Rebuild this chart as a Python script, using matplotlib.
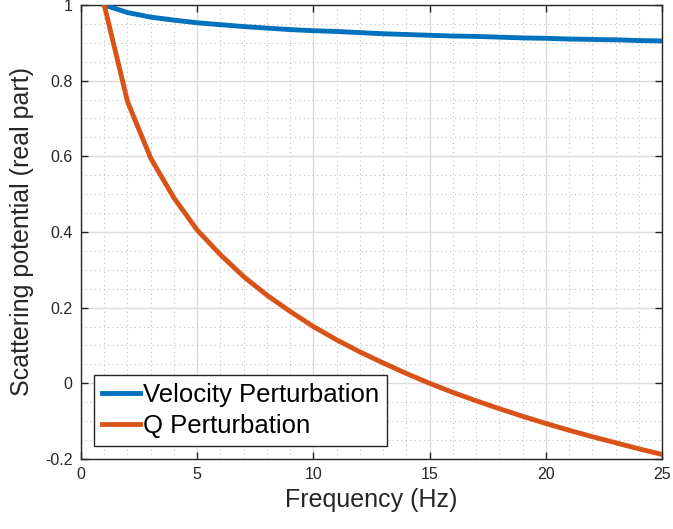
import matplotlib
matplotlib.use("Agg")
import matplotlib.pyplot as plt
from matplotlib.ticker import MultipleLocator, FormatStrFormatter

freq = [1, 2, 3, 4, 5, 6, 7, 8, 9, 10, 11, 12, 13,
        14, 15, 16, 17, 18, 19, 20, 21, 22, 23, 24, 25]
velocity = [1.000, 0.980, 0.968, 0.960, 0.953, 0.948, 0.943, 0.939, 0.935,
            0.932, 0.930, 0.927, 0.924, 0.922, 0.920, 0.918, 0.917, 0.915,
            0.913, 0.912, 0.910, 0.909, 0.908, 0.906, 0.905]
q_pert = [1.000, 0.745, 0.595, 0.490, 0.405, 0.340, 0.282, 0.233, 0.190,
          0.150, 0.115, 0.083, 0.054, 0.026, 0.000, -0.024, -0.046, -0.067,
          -0.087, -0.106, -0.124, -0.141, -0.157, -0.173, -0.188]
labels = ["Velocity Perturbation", "Q Perturbation"]

plt.rcParams['font.family'] = ['Liberation Sans', 'DejaVu Sans']
plt.rcParams['axes.unicode_minus'] = False

fig = plt.figure(figsize=(6.73, 5.29), dpi=100)
ax = fig.add_axes([81 / 673, 1 - 459 / 529, 581 / 673, 454 / 529])

ax.plot(freq, velocity, color='#0072BD', lw=3.5, label=labels[0], zorder=3)
ax.plot(freq, q_pert, color='#D95319', lw=3.5, label=labels[1], zorder=3)

ax.set_xlim(0, 25)
ax.set_ylim(-0.2, 1)
ax.xaxis.set_major_locator(MultipleLocator(5))
ax.xaxis.set_minor_locator(MultipleLocator(1))
ax.yaxis.set_major_locator(MultipleLocator(0.2))
ax.yaxis.set_minor_locator(MultipleLocator(0.05))
ax.yaxis.set_major_formatter(FormatStrFormatter('%g'))

ax.grid(which='major', color='#dcdcdc', lw=1.0, ls='-')
ax.grid(which='minor', color='#c0c0c0', lw=0.8, ls=(0, (1, 3)))
ax.set_axisbelow(True)

ax.tick_params(which='major', direction='in', top=True, right=True,
               length=5, width=1, labelsize=11.5, colors='#262626', pad=6)
ax.tick_params(which='minor', length=0)
for s in ax.spines.values():
    s.set_color('#262626')
    s.set_linewidth(1)

ax.set_xlabel("Frequency (Hz)", fontsize=18, color='#262626', labelpad=4)
ax.set_ylabel("Scattering potential (real part)", fontsize=18, color='#262626', labelpad=8)

leg = ax.legend(loc='lower left', bbox_to_anchor=(13 / 581, 13 / 454),
                borderaxespad=0, fontsize=18.5, fancybox=False, frameon=True,
                edgecolor='#262626', framealpha=1, handlelength=1.5,
                handletextpad=0.12, labelspacing=0.3, borderpad=0.3)
leg.get_frame().set_linewidth(1)

fig.savefig("out.png", dpi=100)
